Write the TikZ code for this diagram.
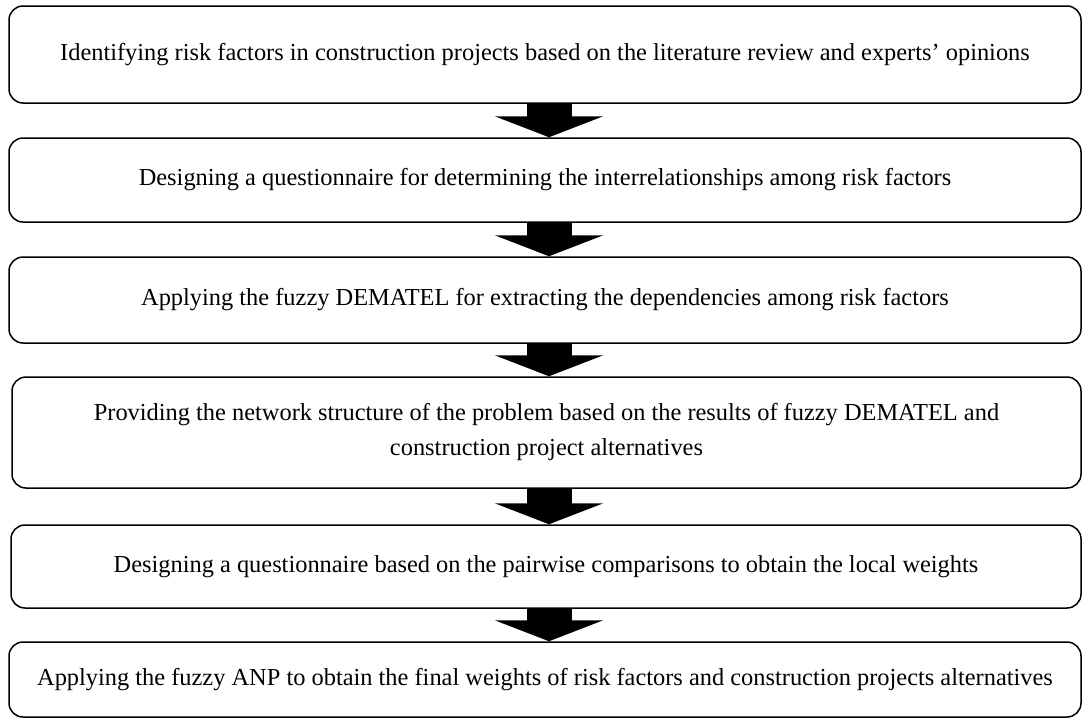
\documentclass[tikz,border=0pt]{standalone}
\usepackage{fontspec}
\setmainfont{Liberation Serif}
\usetikzlibrary{arrows.meta}
\begin{document}
\begin{tikzpicture}[x=1pt,y=-1pt,
  box/.style={draw=black, line width=1.5pt, rounded corners=14pt, fill=white,
    inner sep=0pt, align=center, font=\fontsize{24.4}{35}\selectfont},
  flow/.style={line width=45pt, black, -{Triangle[width=108pt,length=21pt]}}]
\useasboundingbox (0,0) rectangle (1082,718);
\fill[white] (0,0) rectangle (1082,718);
\node[box, minimum width=1072pt, minimum height=97pt] (b1) at (545,54.5)
  {Identifying risk factors in construction projects based on the literature review and experts’ opinions};
\node[box, minimum width=1072pt, minimum height=84pt] (b2) at (545,180)
  {Designing a questionnaire for determining the interrelationships among risk factors};
\node[box, minimum width=1072pt, minimum height=86pt] (b3) at (545,300)
  {Applying the fuzzy DEMATEL for extracting the dependencies among risk factors};
\node[box, minimum width=1069pt, minimum height=111pt] (b4) at (546.5,432.5)
  {Providing the network structure of the problem based on the results of fuzzy DEMATEL and\\construction project alternatives};
\node[box, minimum width=1070pt, minimum height=83pt] (b5) at (546,566.5)
  {Designing a questionnaire based on the pairwise comparisons to obtain the local weights};
\node[box, minimum width=1072pt, minimum height=75pt] (b6) at (545,679.5)
  {Applying the fuzzy ANP to obtain the final weights of risk factors and construction projects alternatives};
\coordinate (ax) at (549,0);
\draw[flow] (b1.south -| ax) -- (b2.north -| ax);
\draw[flow] (b2.south -| ax) -- (b3.north -| ax);
\draw[flow] (b3.south -| ax) -- (b4.north -| ax);
\draw[flow] (b4.south -| ax) -- (b5.north -| ax);
\draw[flow] (b5.south -| ax) -- (b6.north -| ax);
\end{tikzpicture}
\end{document}
